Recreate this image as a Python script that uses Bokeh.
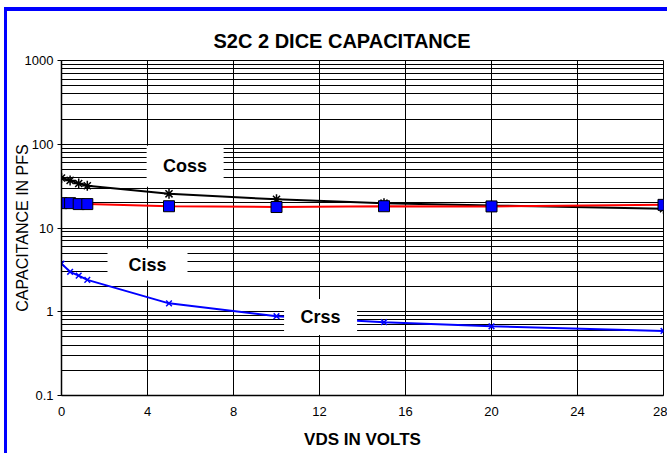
from bokeh.plotting import figure
from bokeh.models import Range1d, FixedTicker
from bokeh.embed import file_html
from bokeh.resources import INLINE
from bokeh.core.properties import value

# ---- data ----
vds = [0, 0.4, 0.8, 1.2, 5, 10, 15, 20, 28]
coss = [39.5, 37.0, 34.0, 32.0, 25.6, 22.0, 19.8, 18.6, 17.0]
ciss = [19.8, 19.8, 19.3, 19.3, 18.2, 17.8, 18.2, 18.1, 18.9]
crss = [3.75, 3.0, 2.7, 2.4, 1.26, 0.885, 0.75, 0.67, 0.59]

x_ticks = [0, 4, 8, 12, 16, 20, 24, 28]
y_ticks = [0.1, 1, 10, 100, 1000]
y_tick_labels = ["0.1", "1", "10", "100", "1000"]
y_minor = [m * 10.0 ** e for e in range(-1, 3) for m in range(2, 10)]

label_names = ["Coss", "Ciss", "Crss"]
label_x = [5.75, 4.0, 12.05]
label_y = [54.5, 3.66, 0.865]
label_w = [77, 80, 73]
label_h = [41, 32, 36]

FONT = value("Liberation Sans")

p = figure(width=663, height=446,
           x_range=Range1d(0, 28), y_range=Range1d(0.1, 1000),
           y_axis_type="log", output_backend="svg", toolbar_location=None,
           min_border_left=54, min_border_right=7, min_border_top=49, min_border_bottom=62,
           background_fill_color="white", border_fill_color="white")
p.styles = {"margin-left": "4px", "margin-top": "7px",
            "border-left": "3px solid #0000FF", "border-top": "4px solid #0000FF"}

# title
p.title.text = "S2C 2 DICE CAPACITANCE"
p.title.text_font = "Liberation Sans"
p.title.text_font_size = "20px"
p.title.text_font_style = "bold"
p.title.text_color = "black"
p.title.align = "left"
p.title.offset = 152
p.title.standoff = 17

p.outline_line_color = "black"
p.outline_line_width = 1

# axes
p.xaxis.ticker = FixedTicker(ticks=x_ticks)
p.xaxis.axis_label = "VDS IN VOLTS"
p.xaxis.axis_label_text_font = "Liberation Sans"
p.xaxis.axis_label_text_font_style = "bold"
p.xaxis.axis_label_text_font_size = "17px"
p.xaxis.axis_label_standoff = 11
p.xaxis.major_tick_out = 0
p.xaxis.major_tick_in = 0
p.xaxis.minor_tick_out = 0
p.xaxis.major_label_standoff = 11

p.yaxis.ticker = FixedTicker(ticks=y_ticks, minor_ticks=y_minor)
p.yaxis.major_label_overrides = {t: s for t, s in zip(y_ticks, y_tick_labels)}
p.yaxis.axis_label = "CAPACITANCE IN PFS"
p.yaxis.axis_label_text_font = "Liberation Sans"
p.yaxis.axis_label_text_font_style = "normal"
p.yaxis.axis_label_text_font_size = "16px"
p.yaxis.axis_label_standoff = -9
p.yaxis.major_tick_out = 4
p.yaxis.major_tick_in = 0
p.yaxis.minor_tick_out = 0
p.yaxis.minor_tick_in = 0
p.yaxis.major_label_standoff = 4

for ax in (p.xaxis, p.yaxis):
    ax.major_label_text_font = "Liberation Sans"
    ax.major_label_text_font_size = "13px"
    ax.major_label_text_color = "black"
    ax.axis_label_text_color = "black"
    ax.axis_line_color = "black"
    ax.axis_line_width = 1.5
    ax.major_tick_line_color = "black"

# grid
p.xgrid.ticker = FixedTicker(ticks=x_ticks)
p.xgrid.grid_line_color = "black"
p.xgrid.grid_line_width = 1
p.ygrid.grid_line_color = "black"
p.ygrid.grid_line_width = 1
p.ygrid.minor_grid_line_color = "black"
p.ygrid.minor_grid_line_width = 1

# series
p.line(vds, coss, line_color="black", line_width=2)
p.line(vds, ciss, line_color="#FF0000", line_width=2)
p.line(vds, crss, line_color="#0000FF", line_width=2)

p.scatter(vds, coss, marker="asterisk", size=10, line_color="black", line_width=1.5)
p.scatter(vds, ciss, marker="square", size=11, fill_color="#0000FF", line_color="black", line_width=1)
p.scatter(vds, crss, marker="x", size=8, line_color="#0000FF", line_width=1.5)

# white label boxes with series names
p.rect(x=label_x, y=label_y, width=label_w, height=label_h,
       width_units="screen", height_units="screen",
       fill_color="white", line_color=None)
p.text(x=label_x, y=label_y, text=label_names, text_align="center", text_baseline="middle",
       text_font=FONT, text_font_style="bold", text_font_size="18px", text_color="black")

open("out.html", "w").write(file_html(p, INLINE))
